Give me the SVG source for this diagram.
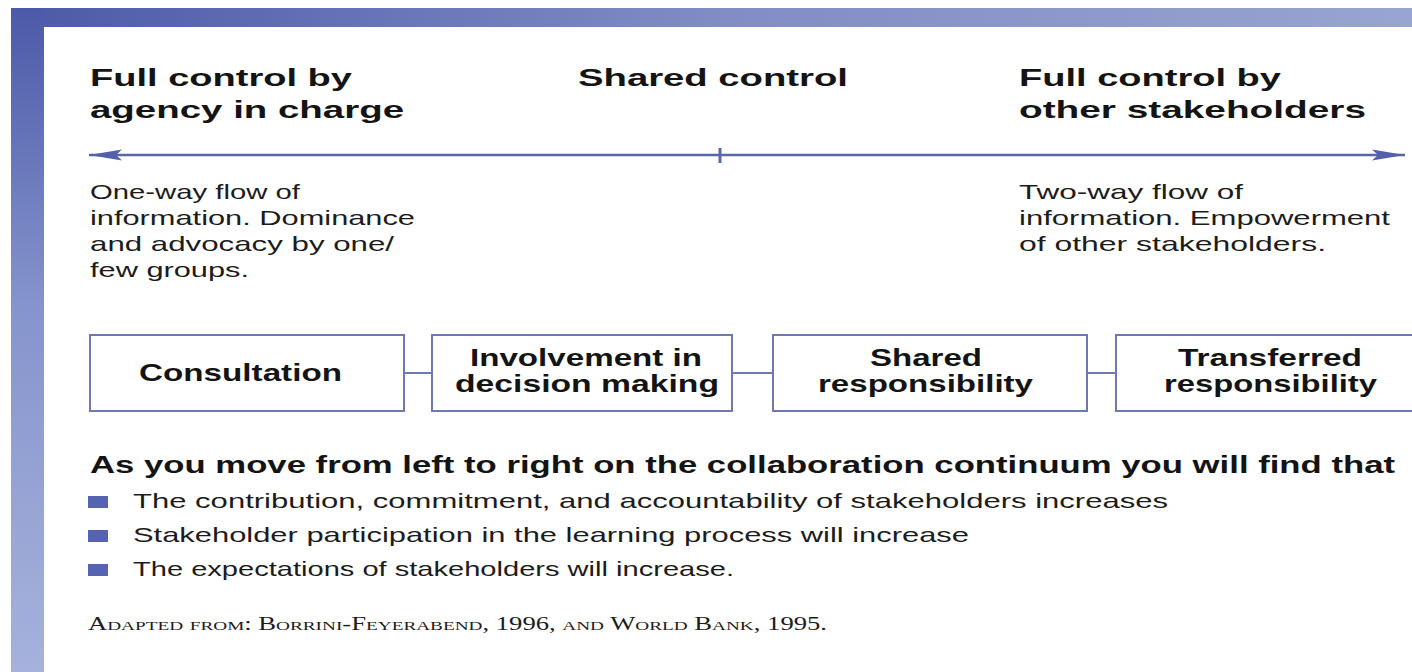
<svg xmlns="http://www.w3.org/2000/svg" width="1412" height="672" viewBox="0 0 1412 672">
  <defs>
    <linearGradient id="gTop" x1="0" y1="0" x2="1" y2="0">
      <stop offset="0" stop-color="#4c5aa8"/>
      <stop offset="0.5" stop-color="#808cc4"/>
      <stop offset="1" stop-color="#9aa4d2"/>
    </linearGradient>
    <linearGradient id="gLeft" x1="0" y1="0" x2="0" y2="1">
      <stop offset="0" stop-color="#4c5aa8"/>
      <stop offset="0.45" stop-color="#8594cc"/>
      <stop offset="1" stop-color="#a6b2dc"/>
    </linearGradient>
    <marker id="arr" markerUnits="userSpaceOnUse" viewBox="0 0 33 12" refX="33" refY="6" markerWidth="33" markerHeight="12" orient="auto-start-reverse">
      <path d="M0,0.5 L33,6 L0,11.5 L6,6 Z" fill="#5460a8"/>
    </marker>
    <style>
      .hd{font-family:"Liberation Sans",Arial,sans-serif;font-weight:bold;font-size:24px;fill:#141414}
      .tx{font-family:"Liberation Sans",Arial,sans-serif;font-size:21px;fill:#1c1c1c}
      .cite{font-family:"Liberation Serif","Times New Roman",serif;font-size:18px;font-variant:small-caps;fill:#1c1c1c}
      .box{fill:#ffffff;stroke:#7078b2;stroke-width:2}
      .con{stroke:#7078b2;stroke-width:2;fill:none}
      .bul{fill:#5563b0}
    </style>
  </defs>

  <rect x="0" y="0" width="1412" height="672" fill="#ffffff"/>
  <g id="frame">
    <rect x="11" y="8" width="1401" height="19" fill="url(#gTop)"/>
    <rect x="11" y="8" width="33" height="664" fill="url(#gLeft)"/>
  </g>

  <g id="scale-labels">
    <text class="hd" x="90" y="86" textLength="262" lengthAdjust="spacingAndGlyphs">Full control by</text>
    <text class="hd" x="90" y="118" textLength="314" lengthAdjust="spacingAndGlyphs">agency in charge</text>
    <text class="hd" x="578" y="86" textLength="270" lengthAdjust="spacingAndGlyphs">Shared control</text>
    <text class="hd" x="1019" y="86" textLength="262" lengthAdjust="spacingAndGlyphs">Full control by</text>
    <text class="hd" x="1019" y="118" textLength="347" lengthAdjust="spacingAndGlyphs">other stakeholders</text>
  </g>

  <g id="scale-axis">
    <line x1="89" y1="155" x2="1405" y2="155" stroke="#5a66a8" stroke-width="2.5" marker-start="url(#arr)" marker-end="url(#arr)"/>
    <line x1="720" y1="148" x2="720" y2="163" stroke="#5a66a8" stroke-width="3"/>
  </g>

  <g id="left-desc">
    <text class="tx" x="90" y="199" textLength="210" lengthAdjust="spacingAndGlyphs">One-way flow of</text>
    <text class="tx" x="90" y="225" textLength="325" lengthAdjust="spacingAndGlyphs">information. Dominance</text>
    <text class="tx" x="90" y="251" textLength="304" lengthAdjust="spacingAndGlyphs">and advocacy by one/</text>
    <text class="tx" x="90" y="277" textLength="159" lengthAdjust="spacingAndGlyphs">few groups.</text>
  </g>
  <g id="right-desc">
    <text class="tx" x="1019" y="199" textLength="224" lengthAdjust="spacingAndGlyphs">Two-way flow of</text>
    <text class="tx" x="1019" y="225" textLength="371" lengthAdjust="spacingAndGlyphs">information. Empowerment</text>
    <text class="tx" x="1019" y="251" textLength="307" lengthAdjust="spacingAndGlyphs">of other stakeholders.</text>
  </g>

  <g id="connectors">
    <line class="con" x1="404" y1="373" x2="432" y2="373"/>
    <line class="con" x1="732" y1="373" x2="773" y2="373"/>
    <line class="con" x1="1087" y1="373" x2="1116" y2="373"/>
  </g>

  <g id="node-consultation">
    <rect class="box" x="90" y="335" width="314" height="76"/>
    <text class="hd" x="139" y="381" textLength="203" lengthAdjust="spacingAndGlyphs">Consultation</text>
  </g>
  <g id="node-involvement">
    <rect class="box" x="432" y="335" width="300" height="76"/>
    <text class="hd" x="470" y="366" textLength="232" lengthAdjust="spacingAndGlyphs">Involvement in</text>
    <text class="hd" x="455" y="392" textLength="264" lengthAdjust="spacingAndGlyphs">decision making</text>
  </g>
  <g id="node-shared">
    <rect class="box" x="773" y="335" width="314" height="76"/>
    <text class="hd" x="870" y="366" textLength="112" lengthAdjust="spacingAndGlyphs">Shared</text>
    <text class="hd" x="818" y="392" textLength="215" lengthAdjust="spacingAndGlyphs">responsibility</text>
  </g>
  <g id="node-transferred">
    <rect class="box" x="1116" y="335" width="330" height="76"/>
    <text class="hd" x="1178" y="366" textLength="184" lengthAdjust="spacingAndGlyphs">Transferred</text>
    <text class="hd" x="1164" y="392" textLength="213" lengthAdjust="spacingAndGlyphs">responsibility</text>
  </g>

  <g id="summary">
    <text class="hd" x="90" y="473" textLength="1305" lengthAdjust="spacingAndGlyphs">As you move from left to right on the collaboration continuum you will find that</text>
    <rect class="bul" x="88" y="496" width="20" height="12"/>
    <text class="tx" x="133" y="508" textLength="1035" lengthAdjust="spacingAndGlyphs">The contribution, commitment, and accountability of stakeholders increases</text>
    <rect class="bul" x="88" y="530" width="20" height="12"/>
    <text class="tx" x="133" y="542" textLength="836" lengthAdjust="spacingAndGlyphs">Stakeholder participation in the learning process will increase</text>
    <rect class="bul" x="88" y="564" width="20" height="12"/>
    <text class="tx" x="133" y="576" textLength="601" lengthAdjust="spacingAndGlyphs">The expectations of stakeholders will increase.</text>
  </g>

  <g id="citation">
    <text class="cite" x="88" y="630" textLength="739" lengthAdjust="spacingAndGlyphs">Adapted from: Borrini-Feyerabend, 1996, and World Bank, 1995.</text>
  </g>
</svg>
